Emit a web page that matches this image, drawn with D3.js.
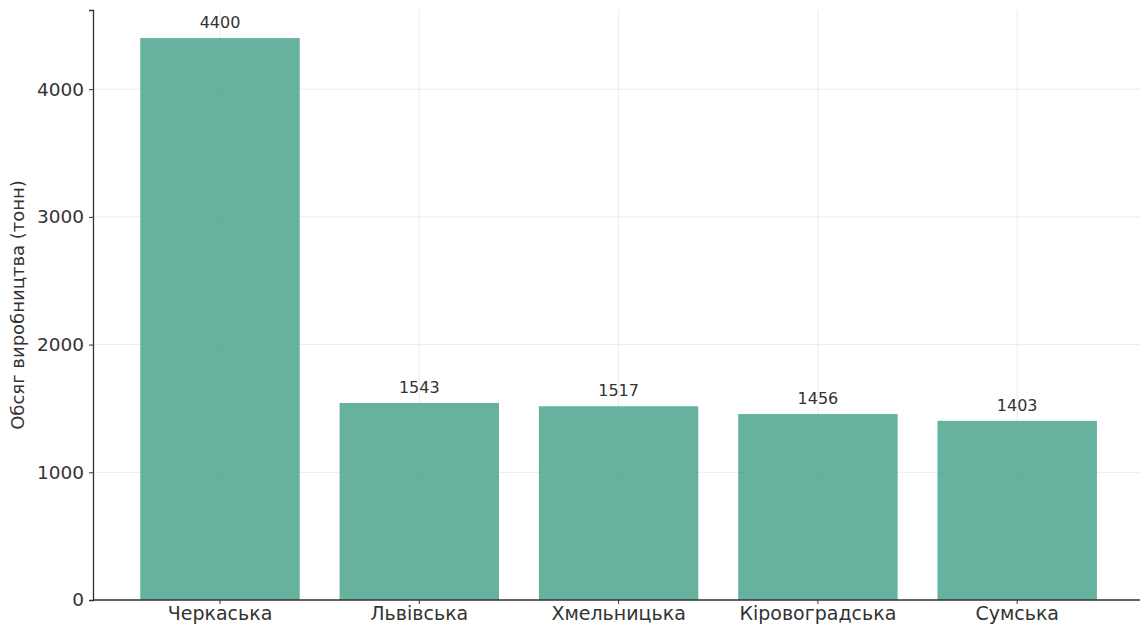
<!DOCTYPE html>
<html>
<head>
<meta charset="utf-8">
<script src="https://cdn.jsdelivr.net/npm/d3@7"></script>
<style>
  body { margin: 0; background: #fff; }
  text { font-family: "DejaVu Sans", sans-serif; }
</style>
</head>
<body>
<svg id="chart" width="1140" height="626"></svg>
<script>
// Дані
const regions = ["Черкаська", "Львівська", "Хмельницька", "Кіровоградська", "Сумська"];
const volumes = [4400, 1543, 1517, 1456, 1403];
const yTicks = [0, 1000, 2000, 3000, 4000];

const data = regions.map((r, i) => ({ region: r, value: volumes[i] }));

const svg = d3.select("#chart");
const margin = { top: 10, right: 0, bottom: 26, left: 93 };
const width = +svg.attr("width");
const height = +svg.attr("height");

const y = d3.scaleLinear()
  .domain([0, 4400 * 1.05])
  .range([height - margin.bottom, margin.top]);

const x = d3.scaleBand()
  .domain(regions)
  .range([120.35, 1116.85])
  .paddingInner(0.2)
  .paddingOuter(0.1);

// Сітка
svg.append("g")
  .selectAll("line.h")
  .data(yTicks)
  .join("line")
  .attr("x1", margin.left).attr("x2", width)
  .attr("y1", d => y(d)).attr("y2", d => y(d))
  .attr("stroke", "#e6e6e6").attr("stroke-width", 0.8);

svg.append("g")
  .selectAll("line.v")
  .data(regions)
  .join("line")
  .attr("x1", d => x(d) + x.bandwidth() / 2).attr("x2", d => x(d) + x.bandwidth() / 2)
  .attr("y1", margin.top).attr("y2", height - margin.bottom)
  .attr("stroke", "#e6e6e6").attr("stroke-width", 0.8);

// Стовпці
svg.selectAll(".bar")
  .data(data)
  .join("rect")
  .attr("class", "bar")
  .attr("x", d => x(d.region))
  .attr("y", d => y(d.value))
  .attr("width", x.bandwidth())
  .attr("height", d => y(0) - y(d.value))
  .attr("fill", "rgba(69,160,138,0.82)");

// Підписи значень
svg.selectAll(".label")
  .data(data)
  .join("text")
  .attr("class", "label")
  .attr("x", d => x(d.region) + x.bandwidth() / 2)
  .attr("y", d => y(d.value) - 10)
  .attr("text-anchor", "middle")
  .attr("font-size", 16)
  .attr("fill", "#333")
  .text(d => d.value);

// Осі
const yAxis = svg.append("g")
  .attr("transform", `translate(${margin.left},0)`)
  .call(d3.axisLeft(y).tickValues(yTicks).tickSize(4).tickPadding(5).tickFormat(d3.format("d")));
yAxis.selectAll("text").attr("font-size", 18.5).attr("fill", "#333").style("font-family", "DejaVu Sans");
yAxis.select(".domain").attr("stroke", "#333").attr("stroke-width", 1.3);
yAxis.selectAll(".tick line").attr("stroke", "#333");

const xAxis = svg.append("g")
  .attr("transform", `translate(0,${height - margin.bottom})`)
  .call(d3.axisBottom(x).tickSize(4).tickPadding(3));
xAxis.select(".domain").attr("d", `M${margin.left},0H${width}`).attr("stroke", "#333").attr("stroke-width", 1.3);
xAxis.selectAll("text").attr("font-size", 19).attr("fill", "#333").style("font-family", "DejaVu Sans");
xAxis.selectAll(".tick line").attr("stroke", "#333");

// Назва осі Y
svg.append("text")
  .attr("transform", `translate(24,${(margin.top + height - margin.bottom) / 2}) rotate(-90)`)
  .attr("text-anchor", "middle")
  .attr("font-size", 18)
  .attr("fill", "#333")
  .text("Обсяг виробництва (тонн)");
</script>
</body>
</html>
